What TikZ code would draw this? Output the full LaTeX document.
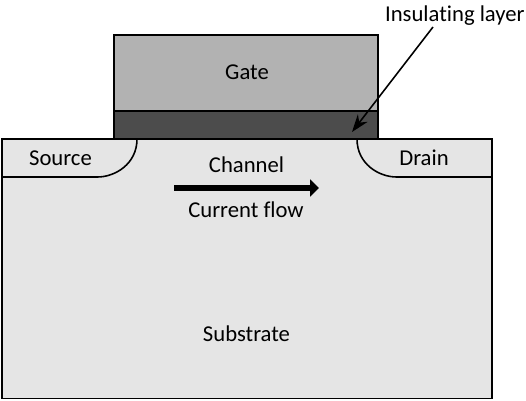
\documentclass[tikz,border=0pt]{standalone}
\usepackage{fontspec}
\setmainfont[Ligatures=NoCommon]{Carlito}
\usetikzlibrary{arrows.meta}
\definecolor{gategray}{gray}{0.70}
\definecolor{oxidegray}{gray}{0.30}
\definecolor{bodygray}{gray}{0.90}
\tikzset{
    part/.style={draw=black,line width=0.9pt},
    partlabel/.style={font=\fontsize{12.9}{15}\selectfont,inner sep=0pt,text=black}
}
\begin{document}
\begin{tikzpicture}
    \useasboundingbox (0,0) rectangle (10.52,8);
    % Sustrato
    \draw[part,fill=bodygray] (0.04,0.03) rectangle (9.84,5.22);
    % Puerta y capa aislante
    \draw[part,fill=gategray] (2.28,5.78) rectangle (7.56,7.3);
    \draw[part,fill=oxidegray] (2.28,5.22) rectangle (7.56,5.78);
    % Fuente y drenador
    \draw[part] (2.74,5.22) .. controls (2.74,4.72) and (2.3,4.46) .. (1.95,4.46) -- (0.04,4.46);
    \draw[part] (7.14,5.22) .. controls (7.14,4.72) and (7.58,4.46) .. (7.93,4.46) -- (9.84,4.46);
    % Etiquetas
    \node[partlabel] (gate) at (4.94,6.56) {Gate};
    \node[partlabel] (source) at (1.21,4.84) {Source};
    \node[partlabel] (drain) at (8.48,4.84) {Drain};
    \node[partlabel] (channel) at (4.93,4.7) {Channel};
    \node[partlabel] (flow) at (4.92,3.8) {Current flow};
    \node[partlabel] (substrate) at (4.93,1.32) {Substrate};
    \node[partlabel,anchor=east] (insulating) at (10.5,7.69) {Insulating layer};
    % Flecha de corriente
    \coordinate (flowstart) at (3.48,4.24);
    \coordinate (flowend) at (6.38,4.24);
    \draw[line width=3.2pt,-{Triangle[length=5pt,width=9.5pt]}] (flowstart) -- (flowend);
    % Flecha de la capa aislante
    \coordinate (layertip) at (7.04,5.36);
    \coordinate (layertail) at (8.66,7.46);
    \draw[line width=0.9pt,-{Stealth[length=10pt,width=7pt]}] (layertail) -- (layertip);
\end{tikzpicture}
\end{document}
